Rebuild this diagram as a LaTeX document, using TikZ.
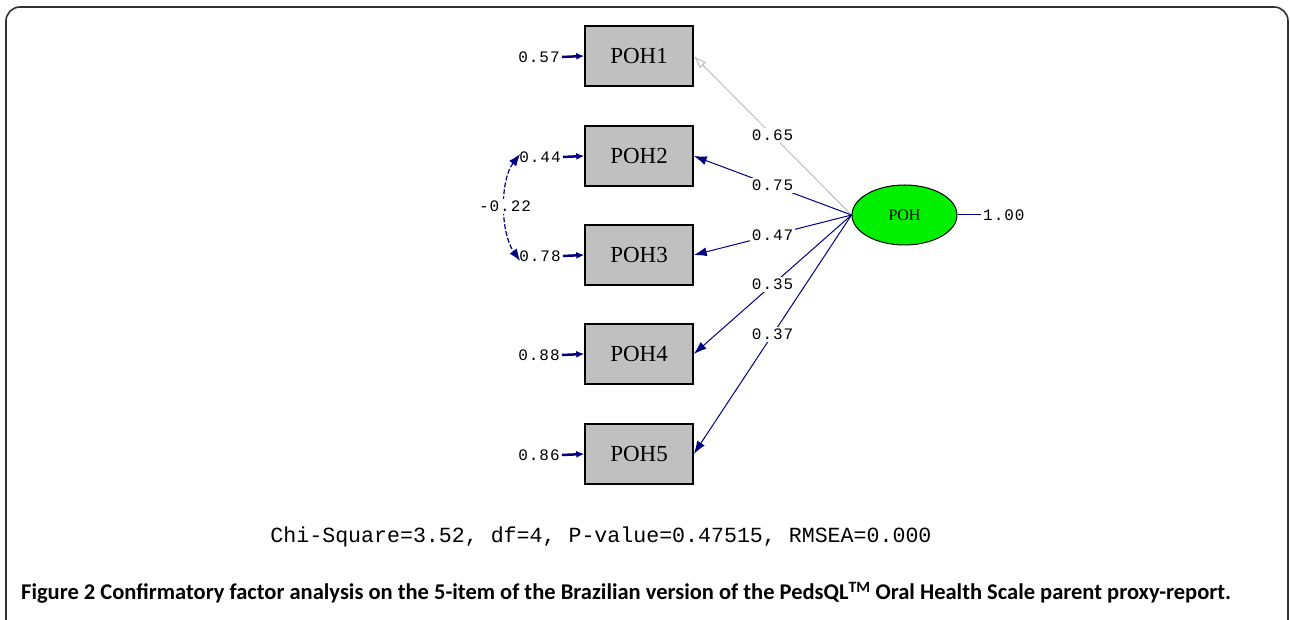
\documentclass[tikz,border=0pt]{standalone}
\usepackage{fontspec}
\setmainfont{Liberation Serif}
\newfontfamily\lblfont[LetterSpace=6]{Liberation Mono}
\newfontfamily\plainmono{Liberation Mono}
\newfontfamily\capfont{Carlito}
\usetikzlibrary{arrows.meta,shapes.geometric}
\definecolor{navy}{RGB}{0,0,128}
\definecolor{boxgray}{RGB}{192,192,192}
\definecolor{lightline}{RGB}{190,190,190}
\definecolor{latentgreen}{RGB}{0,240,0}
\definecolor{framegray}{RGB}{50,50,50}
\tikzset{
  item/.style={draw=black, line width=1.5pt, fill=boxgray, minimum width=108pt, minimum height=60pt, inner sep=0pt, font=\fontsize{23}{23}\selectfont},
  latent/.style={ellipse, draw=black, line width=1pt, fill=latentgreen, minimum width=105pt, minimum height=60pt, inner sep=0pt, font=\fontsize{16}{16}\selectfont},
  lbl/.style={font=\lblfont\fontsize{16}{16}\selectfont, inner sep=2pt},
  lblw/.style={lbl, fill=white},
  load/.style={draw=navy, line width=1pt, -{Latex[length=13pt,width=9pt]}},
  loadgray/.style={draw=lightline, line width=1pt, -{Latex[length=13pt,width=9pt, open]}},
  err/.style={draw=navy, line width=2.5pt, -{Latex[length=8pt,width=7pt]}},
  cov/.style={draw=navy, line width=1.2pt, dash pattern=on 5pt off 2pt, {Latex[length=12pt,width=9pt]}-{Latex[length=12pt,width=9pt]}},
  frame/.style={draw=framegray, line width=1.6pt, rounded corners=14pt}
}
\begin{document}
\begin{tikzpicture}[x=1pt,y=-1pt]
\useasboundingbox (0,0) rectangle (1290,620);
\begin{scope}
\clip (0,0) rectangle (1290,620);
\draw[frame] (6,7) rectangle (1288,640);
\end{scope}

% observed items
\node[item] (p1) at (639,56) {POH1};
\node[item] (p2) at (639,156) {POH2};
\node[item] (p3) at (639,255) {POH3};
\node[item] (p4) at (639,354) {POH4};
\node[item] (p5) at (639,454) {POH5};

% error variances
\node[lbl] (e1) at (539,57) {0.57};
\node[lbl] (e2) at (540,157) {0.44};
\node[lbl] (e3) at (540,256) {0.78};
\node[lbl] (e4) at (539,355) {0.88};
\node[lbl] (e5) at (539,455) {0.86};
\foreach \i in {1,...,5}{\draw[err] (e\i.east) -- (p\i.west);}

% latent
\node[latent] (f) at (904.5,215) {POH};
\node[lbl, anchor=west] (fv) at (981,215) {1.00};
\draw[navy, line width=1pt] (f.east) -- (fv.west);

% loadings
\draw[loadgray] (f.west) -- node[lblw] {0.65} (p1.east);
\draw[load] (f.west) -- node[lblw] {0.75} (p2.east);
\draw[load] (f.west) -- node[lblw] {0.47} (p3.east);
\draw[load] (f.west) -- node[lblw] {0.35} (p4.east);
\draw[load] (f.west) -- node[lblw] {0.37} (p5.east);

% covariance
\draw[cov] ([xshift=3pt,yshift=3pt]e2.west) .. controls (500,180) and (500,232) .. node[lblw] {-0.22} ([xshift=3pt,yshift=-5pt]e3.west);

% fit statistics
\node[font=\plainmono\fontsize{21.6}{22}\selectfont, inner sep=0pt] (fit) at (601,537) {Chi-Square=3.52, df=4, P-value=0.47515, RMSEA=0.000};

% caption
\node[anchor=west, font=\capfont\bfseries\fontsize{22.5}{22.5}\selectfont, inner sep=0pt] (cap) at (21,593) {Figure 2 Confirmatory factor analysis on the 5-item of the Brazilian version of the PedsQL\textsuperscript{TM} Oral Health Scale parent proxy-report.};
\end{tikzpicture}
\end{document}
